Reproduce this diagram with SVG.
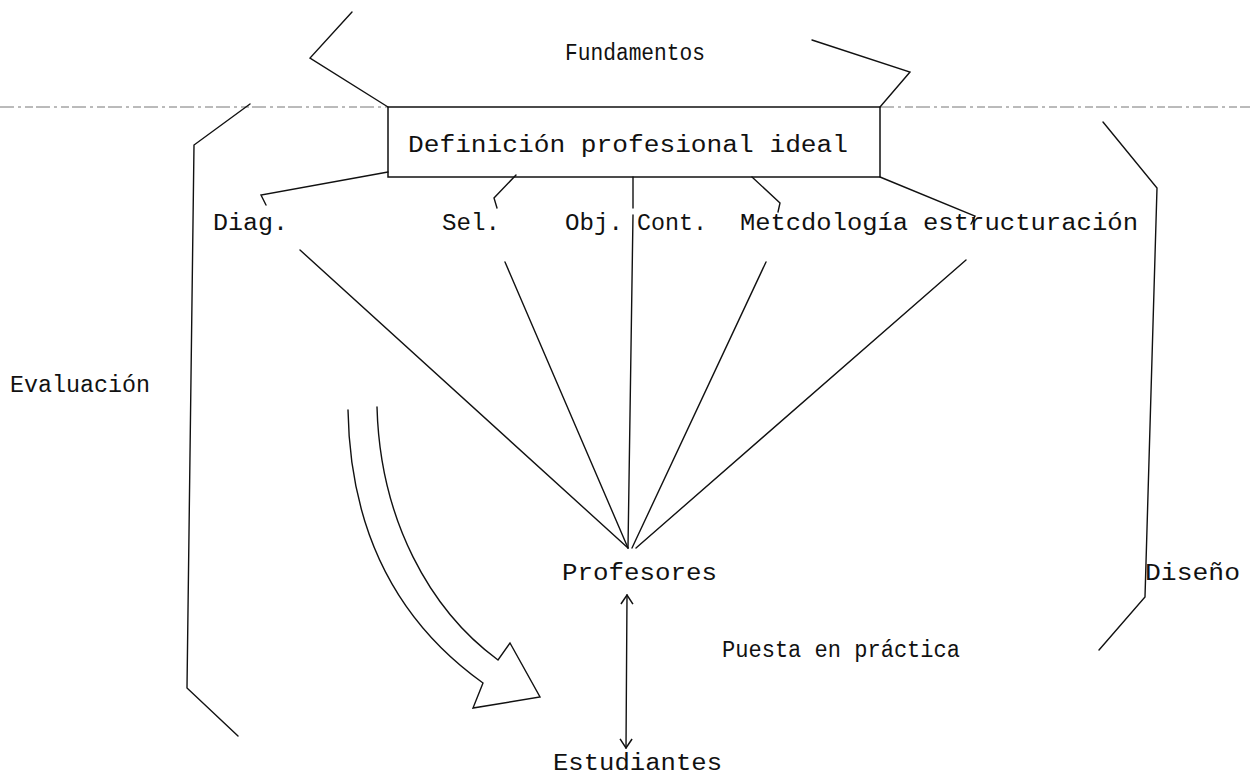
<svg xmlns="http://www.w3.org/2000/svg" width="1250" height="776" viewBox="0 0 1250 776">
<style>
.ln{fill:none;stroke:#111;stroke-width:1.4;stroke-linejoin:miter;stroke-linecap:round}
.t{font-family:"Liberation Mono","DejaVu Sans Mono",monospace;font-size:23px;fill:#111}
.dash{fill:none;stroke:#777;stroke-width:1;stroke-dasharray:14 4 3 4 8 3}
</style>
<defs>
<marker id="open" viewBox="0 0 14 14" refX="13" refY="7" markerWidth="14" markerHeight="14" markerUnits="userSpaceOnUse" orient="auto-start-reverse">
<path d="M4,1 L13,7 L4,13" fill="none" stroke="#111" stroke-width="1.5"/>
</marker>
</defs>
<rect width="1250" height="776" fill="#fff"/>
<path class="dash" d="M0,107 H388 M880,107 H1250"/>
<g id="fundamentos">
<path class="ln" d="M352,12 L310,58 L388,107"/>
<path class="ln" d="M812,40 L910,72 L880,107"/>
<text class="t" x="565" y="60" textLength="140" lengthAdjust="spacingAndGlyphs">Fundamentos</text>
</g>
<g id="definicion">
<rect x="388" y="107" width="492" height="70" fill="none" stroke="#111" stroke-width="1.5"/>
<text class="t" x="408" y="152" textLength="440" lengthAdjust="spacingAndGlyphs">Definición profesional ideal</text>
</g>
<g id="evaluacion">
<path class="ln" d="M250,104 L194,145 L187,688 L238,736"/>
<text class="t" x="10" y="392" textLength="140" lengthAdjust="spacingAndGlyphs">Evaluación</text>
</g>
<g id="diseno">
<path class="ln" d="M1103,122 L1157,188 L1145,597 L1099,650"/>
<text class="t" x="1145" y="580" textLength="95" lengthAdjust="spacingAndGlyphs">Diseño</text>
</g>
<g id="labels">
<text class="t" x="213" y="230" textLength="75" lengthAdjust="spacingAndGlyphs">Diag.</text>
<text class="t" x="442" y="230" textLength="58" lengthAdjust="spacingAndGlyphs">Sel.</text>
<text class="t" x="565" y="230" textLength="58" lengthAdjust="spacingAndGlyphs">Obj.</text>
<text class="t" x="637" y="230" textLength="70" lengthAdjust="spacingAndGlyphs">Cont.</text>
<text class="t" x="740" y="230" textLength="168" lengthAdjust="spacingAndGlyphs">Metcdología</text>
<text class="t" x="923" y="230" textLength="215" lengthAdjust="spacingAndGlyphs">estructuración</text>
</g>
<g id="profesores">
<text class="t" x="562" y="580" textLength="155" lengthAdjust="spacingAndGlyphs">Profesores</text>
</g>
<g id="estudiantes">
<text class="t" x="553" y="770" textLength="169" lengthAdjust="spacingAndGlyphs">Estudiantes</text>
</g>
<g id="puesta">
<text class="t" x="722" y="657" textLength="238" lengthAdjust="spacingAndGlyphs">Puesta en práctica</text>
</g>
<g id="flecha">
<path class="ln" d="M348,410 C350,530 395,620 483,683 L473,708 L540,697 L510,643 L498,660 C430,610 380,520 377,407"/>
</g>
<g id="connectors">
<path class="ln" d="M388,172 L261,195 L266,205"/>
<path class="ln" d="M516,175 L494,198 L497,208"/>
<path class="ln" d="M752,177 L780,203 L778,212"/>
<path class="ln" d="M880,177 L975,216 L971,224"/>
<path class="ln" d="M633,177 L633,208"/>
<path class="ln" d="M300,250 L628,548"/>
<path class="ln" d="M505,262 L628,548"/>
<path class="ln" d="M633,215 L628,548"/>
<path class="ln" d="M766,262 L632,548"/>
<path class="ln" d="M966,260 L636,548"/>
<path class="ln" d="M627,595 L626,748" marker-start="url(#open)" marker-end="url(#open)"/>
</g>
</svg>
